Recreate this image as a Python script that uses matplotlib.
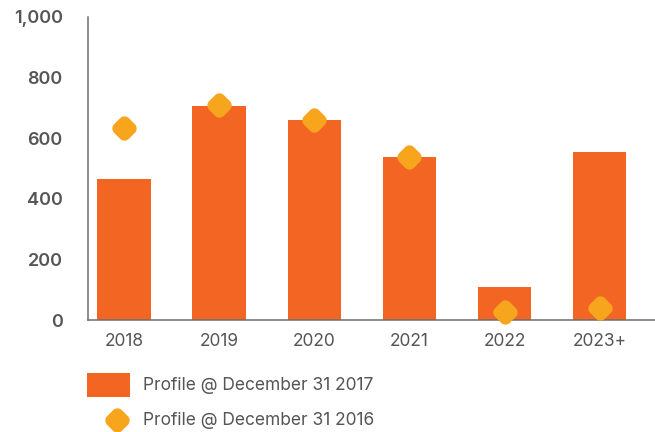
import numpy as np
import matplotlib
matplotlib.use('Agg')
from matplotlib import pyplot as plt
from matplotlib.path import Path
from matplotlib.patches import Patch
from matplotlib.lines import Line2D
from matplotlib.legend_handler import HandlerBase

years = ['2018', '2019', '2020', '2021', '2022', '2023+']
profile_2017 = [465, 706, 660, 538, 109, 554]
profile_2016 = [634, 710, 660, 538, 26, 40]

label_2017 = 'Profile @ December 31 2017'
label_2016 = 'Profile @ December 31 2016'

BAR_COLOR = '#F26522'
DOT_COLOR = '#F8A51E'
AXIS_COLOR = '#6E6E6E'
TEXT_COLOR = '#555555'
DOT_SIZE = 17.5

plt.rcParams['font.family'] = ['Inter', 'DejaVu Sans']


def rounded_diamond(r=0.42, n=16):
    # diamond |x|+|y|=1 with each tip replaced by an arc of radius r
    c = 1 - r * np.sqrt(2)
    pts = []
    for k in range(4):
        a = np.deg2rad(90 * k)
        cx, cy = c * np.cos(a), c * np.sin(a)
        for t in np.linspace(a - np.pi / 4, a + np.pi / 4, n):
            pts.append((cx + r * np.cos(t), cy + r * np.sin(t)))
    pts.append(pts[0])
    codes = [Path.MOVETO] + [Path.LINETO] * (len(pts) - 2) + [Path.CLOSEPOLY]
    return Path(pts, codes)


DOT = rounded_diamond()


class DotHandler(HandlerBase):
    # single dot placed toward the right end of the legend handle
    def create_artists(self, legend, orig_handle, xdescent, ydescent,
                       width, height, fontsize, trans):
        m = Line2D([-xdescent + 0.7 * width], [-ydescent + height / 2],
                   linestyle='none', marker=DOT, markersize=DOT_SIZE,
                   color=DOT_COLOR, markeredgewidth=0)
        m.set_transform(trans)
        return [m]


fig = plt.figure(figsize=(6.55, 4.32), dpi=100)
ax = fig.add_axes([0.134, 0.259, 0.866, 0.702])

x = range(len(years))
ax.bar(x, profile_2017, width=0.56, color=BAR_COLOR, zorder=2)
ax.plot(x, profile_2016, linestyle='none', marker=DOT, markersize=DOT_SIZE,
        color=DOT_COLOR, markeredgewidth=0, zorder=3, clip_on=False)

ax.set_xlim(-0.38, 5.58)
ax.set_ylim(0, 1000)
ax.set_yticks(range(0, 1001, 200))
ax.set_yticklabels([f'{v:,}' for v in range(0, 1001, 200)],
                   fontsize=13, fontweight='semibold', color=TEXT_COLOR)
ax.set_xticks(list(x))
ax.set_xticklabels(years, fontsize=12.5, color=TEXT_COLOR)
ax.tick_params(axis='y', length=0, pad=18)
ax.tick_params(axis='x', length=0, pad=9)

for side in ('top', 'right'):
    ax.spines[side].set_visible(False)
for side in ('left', 'bottom'):
    ax.spines[side].set_color(AXIS_COLOR)
    ax.spines[side].set_linewidth(1.1)

bar_handle = Patch(facecolor=BAR_COLOR, edgecolor='none')
dot_handle = Line2D([], [], linestyle='none', marker=DOT, color=DOT_COLOR)
leg = fig.legend([bar_handle, dot_handle], [label_2017, label_2016],
                 handler_map={dot_handle: DotHandler()},
                 loc='upper left', bbox_to_anchor=(0.133, 0.137),
                 frameon=False, fontsize=12.5, handlelength=2.47,
                 handleheight=1.75, handletextpad=0.75, labelspacing=0.62,
                 borderaxespad=0, borderpad=0)
for t in leg.get_texts():
    t.set_color(TEXT_COLOR)

fig.savefig('out.png', dpi=100)
